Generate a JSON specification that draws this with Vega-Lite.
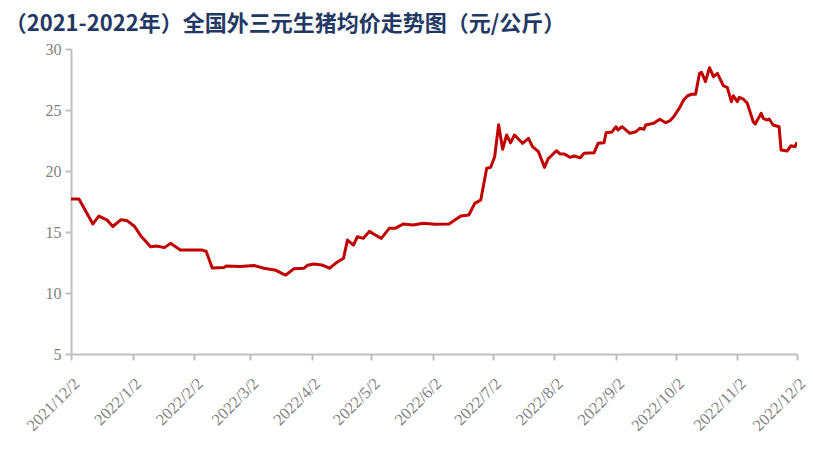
{
  "$schema": "https://vega.github.io/schema/vega-lite/v6.json",
  "autosize": {"type": "none"},
  "padding": {"left": 71, "top": 49, "right": 16, "bottom": 103},
  "width": 726,
  "height": 305,
  "background": "white",
  "title": {
    "text": "（2021-2022年）全国外三元生猪均价走势图（元/公斤）",
    "anchor": "start",
    "dx": -19,
    "offset": 5,
    "font": "Noto Sans CJK SC",
    "fontSize": 22,
    "fontWeight": "bold",
    "color": "#1F3864"
  },
  "data": {
    "values": [
      {"d": "2021/12/02", "v": 17.7},
      {"d": "2021/12/06", "v": 17.7},
      {"d": "2021/12/13", "v": 15.66},
      {"d": "2021/12/16", "v": 16.3},
      {"d": "2021/12/20", "v": 16.0},
      {"d": "2021/12/23", "v": 15.45},
      {"d": "2021/12/27", "v": 16.0},
      {"d": "2021/12/30", "v": 15.95},
      {"d": "2022/01/03", "v": 15.45},
      {"d": "2022/01/06", "v": 14.7},
      {"d": "2022/01/08", "v": 14.35},
      {"d": "2022/01/11", "v": 13.8},
      {"d": "2022/01/14", "v": 13.85},
      {"d": "2022/01/18", "v": 13.72},
      {"d": "2022/01/21", "v": 14.07},
      {"d": "2022/01/26", "v": 13.52},
      {"d": "2022/02/06", "v": 13.52},
      {"d": "2022/02/08", "v": 13.4},
      {"d": "2022/02/11", "v": 12.05},
      {"d": "2022/02/17", "v": 12.1},
      {"d": "2022/02/18", "v": 12.21},
      {"d": "2022/02/25", "v": 12.18},
      {"d": "2022/03/04", "v": 12.25},
      {"d": "2022/03/09", "v": 12.03},
      {"d": "2022/03/15", "v": 11.86},
      {"d": "2022/03/19", "v": 11.53},
      {"d": "2022/03/20", "v": 11.48},
      {"d": "2022/03/24", "v": 11.98},
      {"d": "2022/03/29", "v": 12.02},
      {"d": "2022/03/31", "v": 12.28},
      {"d": "2022/04/03", "v": 12.38},
      {"d": "2022/04/07", "v": 12.3},
      {"d": "2022/04/11", "v": 12.03},
      {"d": "2022/04/14", "v": 12.43},
      {"d": "2022/04/18", "v": 12.84},
      {"d": "2022/04/20", "v": 14.34},
      {"d": "2022/04/23", "v": 13.93},
      {"d": "2022/04/25", "v": 14.61},
      {"d": "2022/04/28", "v": 14.48},
      {"d": "2022/05/01", "v": 15.05},
      {"d": "2022/05/04", "v": 14.75},
      {"d": "2022/05/07", "v": 14.48},
      {"d": "2022/05/11", "v": 15.3},
      {"d": "2022/05/14", "v": 15.3},
      {"d": "2022/05/18", "v": 15.66},
      {"d": "2022/05/23", "v": 15.57},
      {"d": "2022/05/28", "v": 15.71},
      {"d": "2022/06/03", "v": 15.63},
      {"d": "2022/06/10", "v": 15.66},
      {"d": "2022/06/16", "v": 16.31},
      {"d": "2022/06/20", "v": 16.39},
      {"d": "2022/06/23", "v": 17.35},
      {"d": "2022/06/26", "v": 17.62},
      {"d": "2022/06/29", "v": 20.22},
      {"d": "2022/07/01", "v": 20.3},
      {"d": "2022/07/03", "v": 21.17},
      {"d": "2022/07/05", "v": 23.8},
      {"d": "2022/07/07", "v": 21.78},
      {"d": "2022/07/09", "v": 22.95},
      {"d": "2022/07/11", "v": 22.32},
      {"d": "2022/07/13", "v": 22.95},
      {"d": "2022/07/17", "v": 22.27},
      {"d": "2022/07/20", "v": 22.68},
      {"d": "2022/07/22", "v": 22.0},
      {"d": "2022/07/25", "v": 21.58},
      {"d": "2022/07/27", "v": 20.76},
      {"d": "2022/07/28", "v": 20.3},
      {"d": "2022/07/30", "v": 21.04},
      {"d": "2022/07/31", "v": 21.17},
      {"d": "2022/08/03", "v": 21.66},
      {"d": "2022/08/05", "v": 21.39},
      {"d": "2022/08/07", "v": 21.39},
      {"d": "2022/08/10", "v": 21.12},
      {"d": "2022/08/12", "v": 21.23},
      {"d": "2022/08/15", "v": 21.09},
      {"d": "2022/08/17", "v": 21.45},
      {"d": "2022/08/22", "v": 21.5},
      {"d": "2022/08/24", "v": 22.27},
      {"d": "2022/08/27", "v": 22.32},
      {"d": "2022/08/28", "v": 23.14},
      {"d": "2022/08/31", "v": 23.2},
      {"d": "2022/09/02", "v": 23.63},
      {"d": "2022/09/03", "v": 23.36},
      {"d": "2022/09/05", "v": 23.63},
      {"d": "2022/09/09", "v": 23.09},
      {"d": "2022/09/12", "v": 23.22},
      {"d": "2022/09/14", "v": 23.5},
      {"d": "2022/09/16", "v": 23.42},
      {"d": "2022/09/17", "v": 23.77},
      {"d": "2022/09/21", "v": 23.91},
      {"d": "2022/09/24", "v": 24.24},
      {"d": "2022/09/27", "v": 23.96},
      {"d": "2022/09/29", "v": 24.1},
      {"d": "2022/10/01", "v": 24.45},
      {"d": "2022/10/04", "v": 25.19},
      {"d": "2022/10/06", "v": 25.82},
      {"d": "2022/10/08", "v": 26.17},
      {"d": "2022/10/10", "v": 26.29},
      {"d": "2022/10/12", "v": 26.29},
      {"d": "2022/10/14", "v": 28.01},
      {"d": "2022/10/15", "v": 28.09},
      {"d": "2022/10/17", "v": 27.32},
      {"d": "2022/10/19", "v": 28.47},
      {"d": "2022/10/21", "v": 27.73},
      {"d": "2022/10/23", "v": 28.01},
      {"d": "2022/10/24", "v": 27.65},
      {"d": "2022/10/26", "v": 26.99},
      {"d": "2022/10/28", "v": 26.83},
      {"d": "2022/10/30", "v": 25.68},
      {"d": "2022/10/31", "v": 26.17},
      {"d": "2022/11/02", "v": 25.68},
      {"d": "2022/11/03", "v": 26.04},
      {"d": "2022/11/05", "v": 25.9},
      {"d": "2022/11/07", "v": 25.55},
      {"d": "2022/11/10", "v": 24.04},
      {"d": "2022/11/11", "v": 23.85},
      {"d": "2022/11/14", "v": 24.73},
      {"d": "2022/11/15", "v": 24.32},
      {"d": "2022/11/17", "v": 24.18},
      {"d": "2022/11/18", "v": 24.26},
      {"d": "2022/11/20", "v": 23.77},
      {"d": "2022/11/23", "v": 23.63},
      {"d": "2022/11/24", "v": 21.72},
      {"d": "2022/11/27", "v": 21.64},
      {"d": "2022/11/29", "v": 22.07},
      {"d": "2022/12/01", "v": 21.99},
      {"d": "2022/12/02", "v": 22.35}
    ]
  },
  "mark": {"type": "line", "color": "#C00000", "strokeWidth": 3, "strokeJoin": "round", "clip": true},
  "encoding": {
    "x": {
      "field": "d",
      "type": "temporal",
      "scale": {"domain": [{"year": 2021, "month": 12, "date": 2}, {"year": 2022, "month": 12, "date": 2}]},
      "axis": {
        "title": null,
        "grid": false,
        "values": [
          {"year": 2021, "month": 12, "date": 2},
          {"year": 2022, "month": 1, "date": 2},
          {"year": 2022, "month": 2, "date": 2},
          {"year": 2022, "month": 3, "date": 2},
          {"year": 2022, "month": 4, "date": 2},
          {"year": 2022, "month": 5, "date": 2},
          {"year": 2022, "month": 6, "date": 2},
          {"year": 2022, "month": 7, "date": 2},
          {"year": 2022, "month": 8, "date": 2},
          {"year": 2022, "month": 9, "date": 2},
          {"year": 2022, "month": 10, "date": 2},
          {"year": 2022, "month": 11, "date": 2},
          {"year": 2022, "month": 12, "date": 2}
        ],
        "labelExpr": "timeFormat(datum.value, '%Y/%-m/%-d')",
        "labelAngle": -45,
        "labelAlign": "right",
        "labelBaseline": "top",
        "labelFont": "Liberation Serif",
        "labelFontSize": 16.5,
        "labelColor": "#7F7F7F",
        "labelPadding": 15,
        "labelOverlap": false,
        "labelFlush": false,
        "domainColor": "#BFBFBF",
        "domainWidth": 2,
        "tickColor": "#BFBFBF",
        "tickWidth": 2,
        "tickSize": 6
      }
    },
    "y": {
      "field": "v",
      "type": "quantitative",
      "scale": {"domain": [5, 30], "nice": false, "zero": false},
      "axis": {
        "title": null,
        "grid": false,
        "values": [5, 10, 15, 20, 25, 30],
        "labelFont": "Liberation Serif",
        "labelFontSize": 16,
        "labelColor": "#7F7F7F",
        "labelPadding": 4,
        "labelFlush": false,
        "domainColor": "#BFBFBF",
        "domainWidth": 2,
        "tickColor": "#BFBFBF",
        "tickWidth": 2,
        "tickSize": 6
      }
    }
  },
  "config": {"view": {"stroke": null}}
}
